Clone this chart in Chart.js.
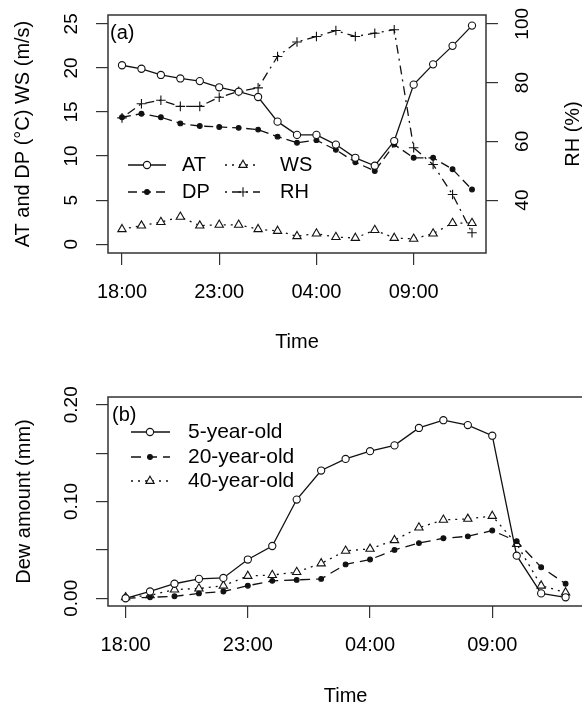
<!DOCTYPE html>
<html>
<head>
<meta charset="utf-8">
<script src="https://cdn.jsdelivr.net/npm/chart.js@4.4.0/dist/chart.umd.min.js"></script>
<style>
html, body { margin: 0; padding: 0; background: #fff; overflow: hidden; width: 582px; height: 706px; }
.panel { position: absolute; left: 0; }
</style>
</head>
<body>
<div class="panel" style="top:0"><canvas id="chartA" width="582" height="353"></canvas></div>
<div class="panel" style="top:353px"><canvas id="chartB" width="600" height="353"></canvas></div>
<script>
// hourly readings from 18:00 to 12:00 the next day
const hours = ['18:00','19:00','20:00','21:00','22:00','23:00','00:00','01:00','02:00','03:00',
               '04:00','05:00','06:00','07:00','08:00','09:00','10:00','11:00','12:00']
const xTickLabels = ['18:00','23:00','04:00','09:00']

// panel (a)
const atValues = [20.3, 19.9, 19.2, 18.8, 18.5, 17.8, 17.3, 16.7, 13.9, 12.4, 12.4, 11.3, 9.8, 8.9, 11.7, 18.1, 20.4, 22.5, 24.8]
const dpValues = [14.4, 14.8, 14.4, 13.7, 13.4, 13.3, 13.2, 13.0, 12.2, 11.5, 11.8, 10.7, 9.3, 8.3, 11.3, 9.8, 9.8, 8.5, 6.2]
const wsValues = [1.7, 2.1, 2.5, 3.1, 2.1, 2.2, 2.2, 1.7, 1.5, 0.9, 1.2, 0.8, 0.7, 1.6, 0.7, 0.6, 1.2, 2.4, 2.4]
const rhValues = [68.0, 72.8, 74.0, 71.9, 71.9, 75.0, 77.0, 78.2, 88.9, 93.8, 95.7, 97.7, 95.7, 96.8, 98.0, 57.8, 52.1, 41.9, 28.9]
const yTicksA = [0, 5, 10, 15, 20, 25]
const yLabelsA = ['0', '5', '10', '15', '20', '25']
const yTicksRH = [40, 60, 80, 100]
const yLabelsRH = ['40', '60', '80', '100']

// panel (b)
const dew5 = [0.000, 0.007, 0.015, 0.020, 0.021, 0.040, 0.054, 0.102, 0.132, 0.144, 0.152, 0.158, 0.176, 0.184, 0.179, 0.168, 0.044, 0.005, 0.001]
const dew20 = [0.000, 0.001, 0.002, 0.005, 0.007, 0.013, 0.018, 0.019, 0.020, 0.035, 0.040, 0.050, 0.057, 0.062, 0.064, 0.070, 0.059, 0.032, 0.015]
const dew40 = [0.001, 0.003, 0.009, 0.010, 0.013, 0.023, 0.024, 0.027, 0.036, 0.049, 0.051, 0.060, 0.073, 0.081, 0.082, 0.085, 0.056, 0.013, 0.006]
const yTicksB = [0, 0.05, 0.10, 0.15, 0.20]
const yLabelsB = ['0.00', '', '0.10', '', '0.20']

const fontFamily = '"Liberation Sans", Arial, Helvetica, sans-serif'
Chart.defaults.font.family = fontFamily
Chart.defaults.color = '#000'

function points(values) {
    return values.map((v, i) => ({x: i, y: v}))
}

function series(label, values, style, extra) {
    return Object.assign({
        label: label,
        data: points(values),
        borderColor: '#111',
        borderWidth: 1.3,
        tension: 0,
        pointBorderColor: '#111',
        pointBorderWidth: 1.1,
        pointBackgroundColor: '#fff',
        pointStyle: style,
        pointRadius: 3.6,
        pointHoverRadius: 3.6
    }, extra || {})
}

function vText(ctx, text, x, y) {
    ctx.save()
    ctx.translate(x, y)
    ctx.rotate(-Math.PI / 2)
    ctx.textAlign = 'center'
    ctx.textBaseline = 'middle'
    ctx.fillText(text, 0, 0)
    ctx.restore()
}

function drawMarker(ctx, ds, x, y) {
    const r = ds.pointRadius
    ctx.save()
    ctx.setLineDash([])
    ctx.lineWidth = ds.pointBorderWidth
    ctx.strokeStyle = ds.pointBorderColor
    ctx.fillStyle = ds.pointBackgroundColor
    ctx.beginPath()
    if (ds.pointStyle === 'triangle') {
        for (let k = 0; k < 3; k++) {
            let a = k * 2 * Math.PI / 3
            if (k === 0) ctx.moveTo(x + Math.sin(a) * r, y - Math.cos(a) * r)
            else ctx.lineTo(x + Math.sin(a) * r, y - Math.cos(a) * r)
        }
        ctx.closePath()
    } else if (ds.pointStyle === 'cross') {
        ctx.moveTo(x - r, y); ctx.lineTo(x + r, y)
        ctx.moveTo(x, y - r); ctx.lineTo(x, y + r)
    } else {
        ctx.arc(x, y, r, 0, Math.PI * 2)
    }
    if (ds.pointStyle !== 'cross') ctx.fill()
    ctx.stroke()
    ctx.restore()
}

// R-like frame: box, rotated y labels and titles, panel tag, legend
function rPanel(cfg) {
    return {
        id: 'rPanel',
        afterDraw(chart) {
            const ctx = chart.ctx
            const area = chart.chartArea
            ctx.save()
            ctx.strokeStyle = '#333'
            ctx.lineWidth = 1.5
            ctx.strokeRect(area.left, area.top, area.right - area.left, area.bottom - area.top)

            ctx.fillStyle = '#000'
            cfg.axes.forEach(function(ax) {
                const scale = chart.scales[ax.id]
                ctx.font = '19px ' + fontFamily
                scale.ticks.forEach(function(t, i) {
                    vText(ctx, ax.labels[i], ax.labelX, scale.getPixelForValue(t.value))
                })
                ctx.font = '20px ' + fontFamily
                vText(ctx, ax.title, ax.titleX, (area.top + area.bottom) / 2)
            })

            ctx.font = '20px ' + fontFamily
            ctx.textAlign = 'left'
            ctx.textBaseline = 'middle'
            ctx.fillText(cfg.tag.text, cfg.tag.x, cfg.tag.y)

            ctx.font = cfg.legend.size + 'px ' + fontFamily
            cfg.legend.items.forEach(function(item) {
                const ds = chart.data.datasets[item.ds]
                ctx.strokeStyle = ds.borderColor
                ctx.lineWidth = ds.borderWidth
                ctx.setLineDash(ds.borderDash || [])
                ctx.beginPath()
                ctx.moveTo(item.x1, item.y)
                ctx.lineTo(item.x2, item.y)
                ctx.stroke()
                drawMarker(ctx, ds, item.mx, item.y)
                ctx.fillStyle = '#000'
                ctx.textAlign = 'left'
                ctx.textBaseline = 'middle'
                ctx.fillText(ds.label, item.tx, item.y)
            })
            ctx.restore()
        }
    }
}

function xAxis(titlePad) {
    return {
        type: 'linear',
        min: -0.72,
        max: 18.72,
        afterBuildTicks: function(scale) {
            scale.ticks = xTickLabels.map(l => ({value: hours.indexOf(l)}))
        },
        afterFit: function(scale) { scale.height = 100 },
        ticks: {
            maxRotation: 0,
            autoSkip: false,
            padding: 17,
            font: {size: 20, lineHeight: 1},
            callback: (value, index) => xTickLabels[index]
        },
        grid: {drawOnChartArea: false, drawTicks: true, tickLength: 12, color: '#333', lineWidth: 1.2},
        border: {display: false},
        title: {display: true, text: 'Time', font: {size: 20, lineHeight: 1}, padding: {top: 0, bottom: titlePad}}
    }
}

function yAxis(position, min, max, tickValues, width) {
    return {
        type: 'linear',
        position: position,
        min: min,
        max: max,
        afterBuildTicks: function(scale) {
            scale.ticks = tickValues.map(v => ({value: v}))
        },
        afterFit: function(scale) { scale.width = width },
        ticks: {display: false},
        grid: {drawOnChartArea: false, drawTicks: true, tickLength: 12, color: '#333', lineWidth: 1.2}, 
        border: {display: false}
    }
}

let chartA = new Chart(document.getElementById('chartA').getContext('2d'), {
    type: 'line',
    data: {
        datasets: [
            series('AT', atValues, 'circle', {yAxisID: 'y'}),
            series('DP', dpValues, 'circle', {yAxisID: 'y', borderDash: [9, 5], pointBackgroundColor: '#111', pointRadius: 2.4, pointHoverRadius: 2.4}),
            series('WS', wsValues, 'triangle', {yAxisID: 'y', borderDash: [2, 5], pointRadius: 4.8, pointHoverRadius: 4.8}),
            series('RH', rhValues, 'cross', {yAxisID: 'rh', borderDash: [2, 5, 9, 5], pointRadius: 4.8, pointHoverRadius: 4.8})
        ]
    },
    options: {
        responsive: false,
        animation: false,
        layout: {padding: {top: 15, left: 0, right: 0, bottom: 0}},
        plugins: {legend: {display: false}, tooltip: {enabled: false}},
        scales: {
            x: xAxis(1),
            y: yAxis('left', -1, 26, yTicksA, 108),
            rh: yAxis('right', 22, 103, yTicksRH, 96)
        }
    },
    plugins: [rPanel({
        axes: [
            {id: 'y', labels: yLabelsA, labelX: 72, title: 'AT and DP (°C) WS (m/s)', titleX: 23},
            {id: 'rh', labels: yLabelsRH, labelX: 523, title: 'RH (%)', titleX: 573}
        ],
        tag: {text: '(a)', x: 110, y: 33},
        legend: {size: 20, items: [
            {ds: 0, x1: 128, x2: 166, mx: 147, tx: 182, y: 165},
            {ds: 2, x1: 225, x2: 260, mx: 243, tx: 280, y: 165},
            {ds: 1, x1: 128, x2: 166, mx: 147, tx: 182, y: 192},
            {ds: 3, x1: 225, x2: 260, mx: 243, tx: 280, y: 192}
        ]}
    })]
});

let chartB = new Chart(document.getElementById('chartB').getContext('2d'), {
    type: 'line',
    data: {
        datasets: [
            series('5-year-old', dew5, 'circle'),
            series('20-year-old', dew20, 'circle', {borderDash: [10, 6], pointBackgroundColor: '#111', pointRadius: 2.4, pointHoverRadius: 2.4}),
            series('40-year-old', dew40, 'triangle', {borderDash: [2, 5], pointRadius: 4.8, pointHoverRadius: 4.8})
        ]
    },
    options: {
        responsive: false,
        animation: false,
        layout: {padding: {top: 44, left: 0, right: 16.8, bottom: 0}},
        plugins: {legend: {display: false}, tooltip: {enabled: false}},
        scales: {
            x: xAxis(0),
            y: yAxis('left', -0.008, 0.208, yTicksB, 108)
        }
    },
    plugins: [rPanel({
        axes: [
            {id: 'y', labels: yLabelsB, labelX: 72, title: 'Dew amount (mm)', titleX: 24}
        ],
        tag: {text: '(b)', x: 112, y: 62},
        legend: {size: 21, items: [
            {ds: 0, x1: 131, x2: 170, mx: 150, tx: 188, y: 79},
            {ds: 1, x1: 131, x2: 170, mx: 150, tx: 188, y: 104},
            {ds: 2, x1: 131, x2: 170, mx: 150, tx: 188, y: 128}
        ]}
    })]
});
</script>
</body>
</html>
